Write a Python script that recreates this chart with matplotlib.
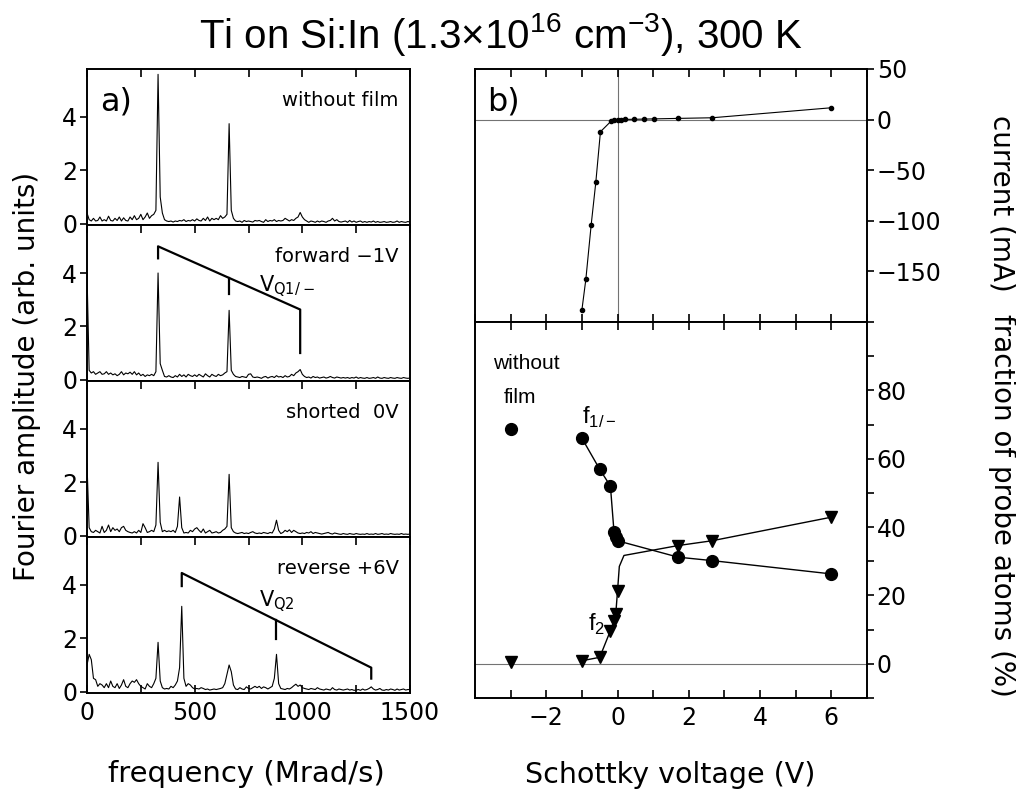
import matplotlib
matplotlib.use("Agg")
import matplotlib.pyplot as plt
from matplotlib.ticker import MultipleLocator, FixedLocator, NullFormatter

plt.rcParams['font.family'] = ['DejaVu Sans']
plt.rcParams['mathtext.fontset'] = 'dejavusans'

# ---------------- data: panel a) Fourier spectra ----------------
freq = list(range(0, 1510, 10))  # Mrad/s

spec_nofilm = [
    0.4, 0.15, 0.1, 0.2, 0.1, 0.12, 0.25, 0.1, 0.15, 0.1,
    0.28, 0.12, 0.1, 0.2, 0.12, 0.25, 0.1, 0.22, 0.12, 0.1,
    0.25, 0.15, 0.3, 0.15, 0.2, 0.35, 0.15, 0.25, 0.4, 0.2,
    0.3, 0.35, 0.5, 5.6, 1.0, 0.4, 0.15, 0.1, 0.08, 0.1,
    0.06, 0.1, 0.08, 0.12, 0.1, 0.15, 0.08, 0.12, 0.1, 0.15,
    0.1, 0.18, 0.12, 0.1, 0.2, 0.12, 0.25, 0.1, 0.2, 0.15,
    0.2, 0.15, 0.3, 0.2, 0.25, 0.35, 3.75, 0.5, 0.2, 0.1,
    0.08, 0.1, 0.05, 0.12, 0.08, 0.1, 0.08, 0.06, 0.12, 0.1,
    0.12, 0.08, 0.05, 0.15, 0.08, 0.12, 0.1, 0.15, 0.08, 0.12,
    0.1, 0.12, 0.2, 0.15, 0.1, 0.15, 0.12, 0.2, 0.25, 0.42,
    0.25, 0.15, 0.1, 0.05, 0.1, 0.08, 0.05, 0.1, 0.06, 0.1,
    0.08, 0.05, 0.1, 0.12, 0.2, 0.1, 0.15, 0.08, 0.06, 0.08,
    0.1, 0.05, 0.12, 0.06, 0.1, 0.05, 0.08, 0.1, 0.05, 0.08,
    0.05, 0.08, 0.06, 0.1, 0.05, 0.08, 0.05, 0.06, 0.08, 0.05,
    0.06, 0.08, 0.05, 0.06, 0.1, 0.05, 0.08, 0.06, 0.05, 0.08,
    0.06]

spec_forward = [
    4.0, 0.35, 0.25, 0.3, 0.2, 0.25, 0.3, 0.2, 0.22, 0.3,
    0.2, 0.25, 0.18, 0.22, 0.15, 0.2, 0.3, 0.18, 0.25, 0.22,
    0.28, 0.2, 0.3, 0.18, 0.25, 0.15, 0.2, 0.12, 0.18, 0.15,
    0.2, 0.15, 0.3, 4.0, 0.6, 0.35, 0.12, 0.1, 0.15, 0.1,
    0.08, 0.15, 0.1, 0.2, 0.12, 0.18, 0.1, 0.2, 0.15, 0.12,
    0.18, 0.12, 0.2, 0.15, 0.1, 0.22, 0.15, 0.1, 0.2, 0.15,
    0.12, 0.2, 0.15, 0.18, 0.25, 0.3, 2.6, 0.35, 0.2, 0.12,
    0.1, 0.08, 0.12, 0.1, 0.08, 0.2, 0.22, 0.1, 0.08, 0.1,
    0.08, 0.05, 0.1, 0.12, 0.06, 0.1, 0.12, 0.08, 0.15, 0.1,
    0.12, 0.08, 0.15, 0.1, 0.12, 0.2, 0.15, 0.25, 0.3, 0.38,
    0.2, 0.12, 0.08, 0.1, 0.06, 0.12, 0.08, 0.1, 0.06, 0.08,
    0.1, 0.06, 0.08, 0.12, 0.08, 0.06, 0.1, 0.08, 0.06, 0.08,
    0.06, 0.08, 0.05, 0.08, 0.06, 0.1, 0.05, 0.08, 0.06, 0.05,
    0.08, 0.05, 0.06, 0.08, 0.05, 0.1, 0.06, 0.05, 0.08, 0.06,
    0.05, 0.08, 0.06, 0.05, 0.08, 0.06, 0.05, 0.08, 0.06, 0.05,
    0.06]

spec_shorted = [
    2.7, 0.3, 0.15, 0.12, 0.2, 0.15, 0.1, 0.35, 0.12, 0.2,
    0.4, 0.15, 0.3, 0.2, 0.25, 0.15, 0.3, 0.35, 0.2, 0.15,
    0.12, 0.1, 0.15, 0.1, 0.2, 0.12, 0.45, 0.3, 0.12, 0.15,
    0.2, 0.15, 0.4, 2.75, 0.5, 0.15, 0.2, 0.15, 0.18, 0.15,
    0.2, 0.12, 0.35, 1.45, 0.3, 0.1, 0.12, 0.1, 0.2, 0.15,
    0.25, 0.3, 0.2, 0.12, 0.25, 0.1, 0.15, 0.2, 0.1, 0.12,
    0.15, 0.1, 0.12, 0.2, 0.25, 0.35, 2.3, 0.3, 0.15, 0.1,
    0.08, 0.1, 0.12, 0.08, 0.1, 0.08, 0.12, 0.15, 0.1, 0.08,
    0.1, 0.08, 0.12, 0.1, 0.08, 0.12, 0.1, 0.25, 0.58, 0.2,
    0.08, 0.12, 0.2, 0.15, 0.22, 0.12, 0.2, 0.15, 0.1, 0.08,
    0.1, 0.08, 0.12, 0.1, 0.15, 0.08, 0.12, 0.1, 0.08, 0.06,
    0.08, 0.1, 0.12, 0.08, 0.06, 0.1, 0.08, 0.06, 0.05, 0.08,
    0.06, 0.05, 0.08, 0.06, 0.05, 0.08, 0.06, 0.05, 0.06, 0.05,
    0.08, 0.05, 0.06, 0.05, 0.08, 0.05, 0.06, 0.08, 0.05, 0.06,
    0.05, 0.08, 0.06, 0.05, 0.06, 0.05, 0.08, 0.05, 0.06, 0.05,
    0.06]

spec_reverse = [
    1.0, 1.4, 1.2, 0.5, 0.45, 0.2, 0.3, 0.25, 0.15, 0.3,
    0.15, 0.4, 0.2, 0.15, 0.3, 0.12, 0.25, 0.45, 0.2, 0.15,
    0.3, 0.4, 0.35, 0.45, 0.3, 0.2, 0.15, 0.1, 0.3, 0.2,
    0.15, 0.3, 0.5, 1.85, 0.4, 0.15, 0.1, 0.12, 0.1, 0.2,
    0.15, 0.25, 0.4, 0.9, 3.2, 0.5, 0.2, 0.3, 0.25, 0.15,
    0.1, 0.12, 0.1, 0.15, 0.12, 0.08, 0.1, 0.06, 0.08, 0.1,
    0.08, 0.1, 0.12, 0.15, 0.3, 0.65, 1.0, 0.75, 0.25, 0.1,
    0.08, 0.15, 0.1, 0.08, 0.18, 0.12, 0.1, 0.15, 0.2, 0.15,
    0.2, 0.12, 0.18, 0.15, 0.1, 0.15, 0.2, 0.5, 1.4, 0.3,
    0.12, 0.1, 0.08, 0.12, 0.1, 0.15, 0.22, 0.28, 0.2, 0.25,
    0.15, 0.12, 0.1, 0.08, 0.12, 0.1, 0.08, 0.15, 0.1, 0.08,
    0.06, 0.1, 0.08, 0.06, 0.15, 0.08, 0.06, 0.1, 0.08, 0.06,
    0.08, 0.1, 0.06, 0.08, 0.05, 0.06, 0.08, 0.05, 0.1, 0.06,
    0.08, 0.12, 0.18, 0.1, 0.06, 0.08, 0.12, 0.06, 0.05, 0.08,
    0.06, 0.1, 0.08, 0.05, 0.1, 0.06, 0.08, 0.1, 0.06, 0.08,
    0.08]

spectra = [spec_nofilm, spec_forward, spec_shorted, spec_reverse]
spec_labels = ["without film", "forward \u22121V", "shorted  0V", "reverse +6V"]

# frequency-triplet brackets (VQ1/- and VQ2)
vq1_x = [330, 330, 990, 990]
vq1_y = [4.55, 5.0, 2.63, 1.0]
vq1_mid_x = [660, 660]
vq1_mid_y = [3.8, 3.2]
vq2_x = [440, 440, 1320, 1320]
vq2_y = [3.96, 4.45, 0.9, 0.49]
vq2_mid_x = [880, 880]
vq2_mid_y = [2.675, 1.96]

# ---------------- data: panel b) ----------------
cur_v = [-1.0, -0.89, -0.74, -0.61, -0.48, -0.18, -0.1, 0.0, 0.1, 0.2,
         0.46, 0.74, 1.02, 1.70, 2.65, 6.0]
cur_i = [-188, -158, -104, -62, -12, -1.5, 0, 0, 0, 0.2,
         0.3, 0.5, 0.7, 1.2, 1.8, 11.7]

f1_v = [-1.0, -0.5, -0.2, -0.1, -0.05, 0.0, 1.7, 2.65, 6.0]
f1_y = [66.0, 56.9, 52.0, 38.7, 37.0, 36.0, 31.2, 30.2, 26.3]
f2_v = [-1.0, -0.5, -0.2, -0.1, -0.05, 0.0, 1.7, 2.65, 6.0]
f2_y = [0.9, 1.9, 9.7, 12.6, 14.6, 21.4, 34.6, 36.0, 42.9]
f2_guide_v = [-1.0, -0.5, -0.2, -0.1, -0.05, 0.0, 0.05, 0.18, 1.7, 2.65, 6.0]
f2_guide_y = [0.9, 1.9, 9.7, 12.6, 14.6, 21.4, 28.5, 31.7, 34.6, 36.0, 42.9]
nofilm_v = [-3.0]
nofilm_f1 = [68.8]
nofilm_f2 = [0.4]

# ---------------- figure ----------------
W, H = 1016, 792
fig = plt.figure(figsize=(W / 100, H / 100), dpi=100)

def fr(x0, y_top, x1, y_bot):
    return [x0 / W, 1 - y_bot / H, (x1 - x0) / W, (y_bot - y_top) / H]

lw_spine = 1.4
tick_fs = 17

panel_tops = [69, 225, 381, 537]
panel_bots = [225, 381, 537, 693]
axes_a = []
for k in range(4):
    ax = fig.add_axes(fr(87, panel_tops[k], 410, panel_bots[k]))
    axes_a.append(ax)
    ax.plot(freq, spectra[k], color='black', lw=0.8)
    ax.set_xlim(0, 1500)
    ax.set_ylim(-0.05, 5.8)
    ax.set_yticks([0, 2, 4])
    ax.xaxis.set_major_locator(MultipleLocator(500))
    ax.xaxis.set_minor_locator(MultipleLocator(250))
    for s in ax.spines.values():
        s.set_linewidth(lw_spine)
    ax.tick_params(axis='y', direction='out', length=5, width=1.2,
                   labelsize=tick_fs, pad=2)
    if k < 3:
        ax.tick_params(axis='x', which='both', top=True, bottom=False,
                       direction='in', length=6, width=1.2, labelbottom=False)
    else:
        ax.tick_params(axis='x', which='both', top=True, bottom=True,
                       direction='in', length=6, width=1.2, labelsize=tick_fs,
                       pad=6)
    ax.text(0.965, 0.80, spec_labels[k], transform=ax.transAxes,
            ha='right', va='center', fontsize=14)

axes_a[0].text(0.04, 0.79, "a)", transform=axes_a[0].transAxes,
               ha='left', va='center', fontsize=23)

axes_a[1].plot(vq1_x, vq1_y, color='black', lw=1.6)
axes_a[1].plot(vq1_mid_x, vq1_mid_y, color='black', lw=1.6)
axes_a[1].text(800, 3.5, r"V$_{\mathregular{Q1/-}}$", ha='left', va='center',
               fontsize=15)
axes_a[3].plot(vq2_x, vq2_y, color='black', lw=1.6)
axes_a[3].plot(vq2_mid_x, vq2_mid_y, color='black', lw=1.6)
axes_a[3].text(800, 3.4, r"V$_{\mathregular{Q2}}$", ha='left', va='center',
               fontsize=15)

axes_a[3].set_xticks([0, 500, 1000, 1500])

# ---------------- panel b) top: current ----------------
axt = fig.add_axes(fr(475, 69, 867, 322))
axt.axhline(0, color='0.45', lw=0.8, zorder=1)
axt.axvline(0, color='0.45', lw=0.8, zorder=1)
axt.plot(cur_v, cur_i, color='black', lw=0.8, marker='o', ms=3, zorder=3)
axt.set_xlim(-4, 7)
axt.set_ylim(-200, 50)
axt.xaxis.set_major_locator(MultipleLocator(1))
axt.tick_params(axis='x', which='both', top=True, bottom=True, direction='in',
                length=6, width=1.2, labelbottom=False)
axt.yaxis.tick_right()
axt.set_yticks([-200, -150, -100, -50, 0, 50])
axt.set_yticklabels(["", "\u2212150", "\u2212100", "\u221250", "0", "50"])
axt.tick_params(axis='y', direction='out', length=5, width=1.2,
                labelsize=tick_fs, pad=2)
for s in axt.spines.values():
    s.set_linewidth(lw_spine)
axt.text(0.03, 0.87, "b)", transform=axt.transAxes, ha='left', va='center',
         fontsize=23)

# ---------------- panel b) bottom: fractions ----------------
axb = fig.add_axes(fr(475, 322, 867, 698))
axb.axhline(0, color='0.45', lw=0.8, zorder=1)
axb.plot(f1_v, f1_y, color='black', lw=1.0, zorder=2)
axb.plot(f1_v, f1_y, linestyle='none', marker='o', ms=8.5, color='black',
         zorder=3)
axb.plot(f2_guide_v, f2_guide_y, color='black', lw=1.0, zorder=2)
axb.plot(f2_v, f2_y, linestyle='none', marker='v', ms=8.5, color='black',
         zorder=3)
axb.plot(nofilm_v, nofilm_f1, linestyle='none', marker='o', ms=8.5,
         color='black')
axb.plot(nofilm_v, nofilm_f2, linestyle='none', marker='v', ms=8.5,
         color='black')
axb.set_xlim(-4, 7)
axb.set_ylim(-10, 100)
axb.set_xticks([-2, 0, 2, 4, 6])
axb.xaxis.set_minor_locator(MultipleLocator(1))
axb.tick_params(axis='x', which='both', top=True, bottom=True, direction='in',
                length=6, width=1.2, labelsize=tick_fs, pad=6)
axb.yaxis.tick_right()
axb.set_yticks([0, 20, 40, 60, 80])
axb.yaxis.set_minor_locator(FixedLocator([-10, 10, 30, 50, 70, 90]))
axb.tick_params(axis='y', which='both', direction='out', length=5, width=1.2,
                labelsize=tick_fs, pad=2)
for s in axb.spines.values():
    s.set_linewidth(lw_spine)

lab_font = ['Liberation Sans', 'DejaVu Sans']
axb.text(-3.5, 88, "without", ha='left', va='center', fontsize=15,
         family=lab_font)
axb.text(-3.2, 78, "film", ha='left', va='center', fontsize=15,
         family=lab_font)
axb.text(-1.0, 72, r"f$_{\mathregular{1/-}}$", ha='left', va='center',
         fontsize=17, family=lab_font)
axb.text(-0.35, 11.5, r"f$_{\mathregular{2}}$", ha='right', va='center',
         fontsize=17, family=lab_font)

# ---------------- figure texts ----------------
fig.text(501 / W, 1 - 35 / H,
         "Ti on Si:In (1.3\u00d710$^{\\mathregular{16}}$ cm$^{\\mathregular{-3}}$), 300 K",
         ha='center', va='center', fontsize=29, family=lab_font)
fig.text(27 / W, 1 - 376 / H, "Fourier amplitude (arb. units)", rotation=90,
         ha='center', va='center', fontsize=20)
fig.text(1002 / W, 1 - 203 / H, "current (mA)", rotation=270,
         ha='center', va='center', fontsize=20)
fig.text(1002 / W, 1 - 505 / H, "fraction of probe atoms (%)", rotation=270,
         ha='center', va='center', fontsize=20)
fig.text(246 / W, 1 - 774 / H, "frequency (Mrad/s)", ha='center',
         va='center', fontsize=21)
fig.text(670 / W, 1 - 775 / H, "Schottky voltage (V)", ha='center',
         va='center', fontsize=20.5)

fig.savefig("out.png", dpi=100)
